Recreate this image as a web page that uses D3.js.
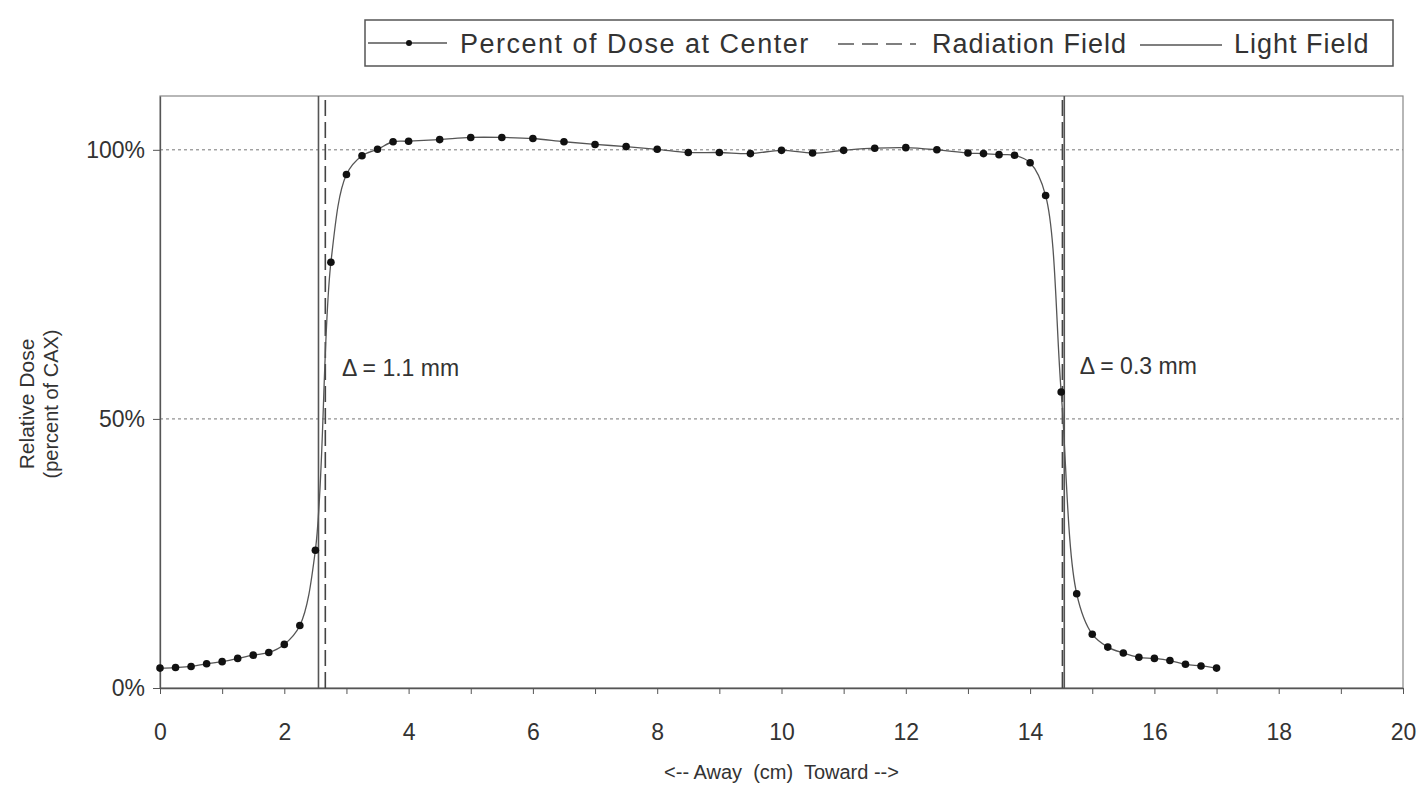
<!DOCTYPE html>
<html>
<head>
<meta charset="utf-8">
<script src="https://cdn.jsdelivr.net/npm/d3@7"></script>
<style>
  body { margin: 0; background: #fff; }
  text { font-family: "Liberation Sans", Arial, sans-serif; fill: #333; }
</style>
</head>
<body>
<svg id="chart"></svg>
<script>
// Data
const positions = [0, 0.25, 0.5, 0.75, 1, 1.25, 1.5, 1.75, 2, 2.25, 2.5, 2.75,
    3, 3.25, 3.5, 3.75, 4, 4.5, 5, 5.5, 6, 6.5, 7, 7.5, 8, 8.5, 9, 9.5, 10, 10.5,
    11, 11.5, 12, 12.5, 13, 13.25, 13.5, 13.75, 14, 14.25, 14.5, 14.75, 15,
    15.25, 15.5, 15.75, 16, 16.25, 16.5, 16.75, 17];
const dosePct = [3.7, 3.8, 4.0, 4.5, 4.9, 5.5, 6.1, 6.6, 8.1, 11.6, 25.6, 79.1,
    95.4, 98.9, 100.1, 101.5, 101.6, 101.9, 102.3, 102.3, 102.1, 101.5, 101.0, 100.6, 100.1, 99.5, 99.5, 99.3, 99.9, 99.4,
    99.9, 100.3, 100.4, 100.0, 99.4, 99.3, 99.1, 99.0, 97.6, 91.5, 55.0, 17.5, 10.0,
    7.6, 6.5, 5.7, 5.5, 5.1, 4.4, 4.1, 3.7];

const lightField = [2.55, 14.55];
const radiationField = [2.66, 14.52];

const xTickLabels = [0, 2, 4, 6, 8, 10, 12, 14, 16, 18, 20];
const yTickLabels = [0, 50, 100];
const gridLevels = [50, 100];

const deltaNotes = [
    { x: 2.93, y: 58, text: "\u0394 = 1.1 mm" },
    { x: 14.8, y: 58.3, text: "\u0394 = 0.3 mm" }
];

const legendItems = ["Percent of Dose at Center", "Radiation Field", "Light Field"];

// Dimensions
let width = 1419, height = 785;
let margin = { top: 96, bottom: 97, left: 160, right: 16 };

let svg = d3.select('#chart')
    .attr('width', width)
    .attr('height', height);

let xScale = d3.scaleLinear()
    .domain([0, 20])
    .range([margin.left, width - margin.right]);

let yScale = d3.scaleLinear()
    .domain([0, 110])
    .range([height - margin.bottom, margin.top]);

const plotLeft = xScale(0), plotRight = xScale(20);
const plotTop = yScale(110), plotBottom = yScale(0);

// Gridlines (dotted)
svg.selectAll('.grid')
    .data(gridLevels)
    .enter()
    .append('line')
    .attr('x1', plotLeft)
    .attr('x2', plotRight)
    .attr('y1', d => yScale(d))
    .attr('y2', d => yScale(d))
    .attr('stroke', '#777')
    .attr('stroke-width', 1)
    .attr('stroke-dasharray', '3,3');

// Plot border
svg.append('rect')
    .attr('x', plotLeft)
    .attr('y', plotTop)
    .attr('width', plotRight - plotLeft)
    .attr('height', plotBottom - plotTop)
    .attr('fill', 'none')
    .attr('stroke', '#888')
    .attr('stroke-width', 1.2);

// X axis
let xAxis = svg.append('g')
    .attr('transform', `translate(0, ${plotBottom})`)
    .call(d3.axisBottom(xScale)
        .ticks(20)
        .tickSizeInner(6)
        .tickSizeOuter(0)
        .tickFormat(d => xTickLabels.includes(d) ? d : ''));

xAxis.select('.domain').attr('stroke', '#555').attr('stroke-width', 1.3);
xAxis.selectAll('.tick line').attr('stroke', '#555');
xAxis.selectAll('.tick text')
    .attr('y', 36)
    .style('font-size', '23px')
    .style('font-family', '"Liberation Sans", Arial, sans-serif')
    .attr('fill', '#4a4a4a');

// Y axis
let yAxis = svg.append('g')
    .attr('transform', `translate(${plotLeft}, 0)`)
    .call(d3.axisLeft(yScale)
        .tickValues(yTickLabels)
        .tickSizeInner(7)
        .tickSizeOuter(0)
        .tickFormat(d => d + '%'));

yAxis.select('.domain').attr('stroke', '#555').attr('stroke-width', 1.3);
yAxis.selectAll('.tick line').attr('stroke', '#555');
yAxis.selectAll('.tick text')
    .attr('x', -15)
    .style('font-size', '23px')
    .style('font-family', '"Liberation Sans", Arial, sans-serif')
    .attr('fill', '#4a4a4a');

// Axis titles
svg.append('text')
    .attr('x', (plotLeft + plotRight) / 2)
    .attr('y', 779)
    .attr('text-anchor', 'middle')
    .style('font-size', '20px')
    .style('white-space', 'pre')
    .text('<-- Away  (cm)  Toward -->');

svg.append('text')
    .attr('transform', `translate(34, 404) rotate(-90)`)
    .attr('text-anchor', 'middle')
    .style('font-size', '21px')
    .text('Relative Dose');

svg.append('text')
    .attr('transform', `translate(58, 404) rotate(-90)`)
    .attr('text-anchor', 'middle')
    .style('font-size', '20px')
    .text('(percent of CAX)');

// Field edge lines
svg.selectAll('.light')
    .data(lightField)
    .enter()
    .append('line')
    .attr('x1', d => xScale(d))
    .attr('x2', d => xScale(d))
    .attr('y1', plotBottom)
    .attr('y2', plotTop)
    .attr('stroke', '#555')
    .attr('stroke-width', 1.6);

svg.selectAll('.radiation')
    .data(radiationField)
    .enter()
    .append('line')
    .attr('x1', d => xScale(d))
    .attr('x2', d => xScale(d))
    .attr('y1', plotBottom)
    .attr('y2', plotTop)
    .attr('stroke', '#444')
    .attr('stroke-width', 1.6)
    .attr('stroke-dasharray', '16,6');

// Dose profile
const profile = positions.map((p, i) => ({ x: p, y: dosePct[i] }));

const line = d3.line()
    .x(d => xScale(d.x))
    .y(d => yScale(d.y))
    .curve(d3.curveCatmullRom.alpha(0.5));

svg.append('path')
    .datum(profile)
    .attr('d', line)
    .attr('fill', 'none')
    .attr('stroke', '#555')
    .attr('stroke-width', 1.3);

svg.selectAll('.pt')
    .data(profile)
    .enter()
    .append('circle')
    .attr('cx', d => xScale(d.x))
    .attr('cy', d => yScale(d.y))
    .attr('r', 3.8)
    .attr('fill', '#111');

// Delta annotations
svg.selectAll('.note')
    .data(deltaNotes)
    .enter()
    .append('text')
    .attr('x', d => xScale(d.x))
    .attr('y', d => yScale(d.y))
    .style('font-size', '23px')
    .attr('fill', '#444')
    .text(d => d.text);

// Legend
let legend = svg.append('g');

legend.append('rect')
    .attr('x', 365)
    .attr('y', 20)
    .attr('width', 1028)
    .attr('height', 46)
    .attr('fill', '#fff')
    .attr('stroke', '#555')
    .attr('stroke-width', 1.5);

// sample 1: line with marker
legend.append('line')
    .attr('x1', 368).attr('x2', 447)
    .attr('y1', 43).attr('y2', 43)
    .attr('stroke', '#555').attr('stroke-width', 1.5);
legend.append('circle')
    .attr('cx', 409).attr('cy', 43).attr('r', 3)
    .attr('fill', '#111');

// sample 2: dashed
legend.append('line')
    .attr('x1', 838).attr('x2', 916)
    .attr('y1', 44).attr('y2', 44)
    .attr('stroke', '#555').attr('stroke-width', 1.5)
    .attr('stroke-dasharray', '16,8');

// sample 3: solid
legend.append('line')
    .attr('x1', 1140).attr('x2', 1222)
    .attr('y1', 45).attr('y2', 45)
    .attr('stroke', '#555').attr('stroke-width', 1.5);

const legendX = [460, 932, 1234];
const legendSpacing = [1.5, 1, 1];
legend.selectAll('.ltext')
    .data(legendItems)
    .enter()
    .append('text')
    .attr('x', (d, i) => legendX[i])
    .attr('y', 53)
    .style('font-size', '27px')
    .style('letter-spacing', (d, i) => legendSpacing[i] + 'px')
    .attr('fill', '#333')
    .text(d => d);
</script>
</body>
</html>
